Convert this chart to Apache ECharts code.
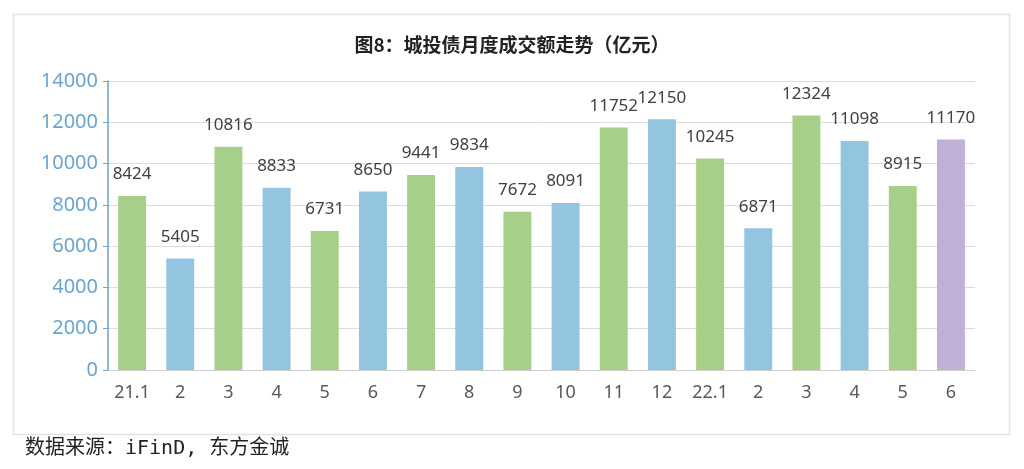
<!DOCTYPE html>
<html><head><meta charset="utf-8">
<script src="https://cdn.jsdelivr.net/npm/echarts@6/dist/echarts.min.js"></script>
<style>html,body{margin:0;padding:0;background:#fff}#c{width:1024px;height:469px}</style>
</head><body><div id="c"></div>
<script>
const categories = ['21.1','2','3','4','5','6','7','8','9','10','11','12','22.1','2','3','4','5','6'];
const values = [8424,5405,10816,8833,6731,8650,9441,9834,7672,8091,11752,12150,10245,6871,12324,11098,8915,11170];
const barColors = ['#a6d08a','#93c5e1','#a6d08a','#93c5e1','#a6d08a','#93c5e1','#a6d08a','#93c5e1','#a6d08a','#93c5e1','#a6d08a','#93c5e1','#a6d08a','#93c5e1','#a6d08a','#93c5e1','#a6d08a','#c0b0d8'];
const yTicks = {min:0, max:14000, interval:2000};
const chart = echarts.init(document.getElementById('c'));
chart.setOption({
  animation:false,
  textStyle:{fontFamily:'"Noto Sans CJK SC", sans-serif'},
  title:{text:'图8：城投债月度成交额走势（亿元）',left:'center',top:30,
    textStyle:{fontSize:19,fontWeight:'bold',color:'#222',fontFamily:'"Noto Sans CJK SC", sans-serif'}},
  graphic:[
    {type:'rect',shape:{x:13.5,y:14.5,width:996,height:420},style:{fill:'none',stroke:'#e2e2e2',lineWidth:1.5},silent:true,z:-1},
    {type:'text',left:25,top:439,style:{text:'数据来源：iFinD, 东方金诚',font:'20px "DejaVu Sans Mono", "Noto Sans CJK SC", monospace',fill:'#222'}}
  ],
  grid:{left:108,right:49,top:81,bottom:99},
  xAxis:{type:'category',data:categories,
    axisLine:{lineStyle:{color:'#d0d0d0',width:1}},axisTick:{show:false},
    axisLabel:{color:'#595959',fontSize:18,margin:14,fontFamily:'"Noto Sans", sans-serif'}},
  yAxis:{type:'value',min:yTicks.min,max:yTicks.max,interval:yTicks.interval,
    axisLine:{show:true,lineStyle:{color:'#6fa3c5',width:1.5}},
    axisTick:{show:true,length:5,lineStyle:{color:'#6fa3c5'}},
    splitLine:{lineStyle:{color:'#dcdcdc',width:1}},
    axisLabel:{color:'#6ba5cc',fontSize:20,margin:10,formatter:v=>String(v),fontFamily:'"Noto Sans", sans-serif'}},
  series:[{type:'bar',data:values.map((v,i)=>({value:v,itemStyle:{color:barColors[i]}})),
    barWidth:'58%',
    label:{show:true,position:'top',distance:13,color:'#404040',fontSize:17,fontFamily:'"Noto Sans", sans-serif'}}]
});
</script></body></html>
